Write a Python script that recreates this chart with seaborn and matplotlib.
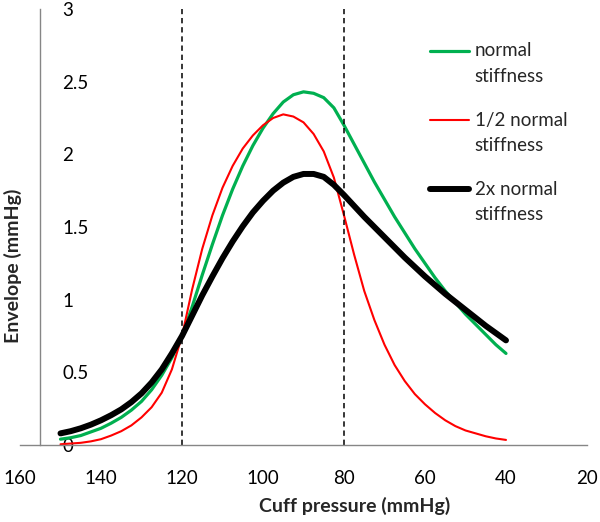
import numpy as np
import pandas as pd
import seaborn as sns
import matplotlib.pyplot as plt
from matplotlib.lines import Line2D
from matplotlib.legend_handler import HandlerLine2D

# values (cuff pressure in mmHg, envelope in mmHg)
pressure = [150, 147.5, 145, 142.5, 140, 137.5, 135, 132.5, 130, 127.5, 125, 122.5,
            120, 117.5, 115, 112.5, 110, 107.5, 105, 102.5, 100, 97.5, 95, 92.5,
            90, 87.5, 85, 82.5, 80, 77.5, 75, 72.5, 70, 67.5, 65, 62.5,
            60, 57.5, 55, 52.5, 50, 47.5, 45, 42.5, 40]
normal = [0.04, 0.05, 0.065, 0.09, 0.115, 0.15, 0.19, 0.24, 0.30, 0.38, 0.48, 0.60,
          0.75, 0.95, 1.17, 1.38, 1.58, 1.76, 1.92, 2.06, 2.18, 2.28, 2.36, 2.41,
          2.43, 2.42, 2.39, 2.32, 2.20, 2.07, 1.94, 1.81, 1.69, 1.57, 1.46, 1.35,
          1.25, 1.15, 1.06, 0.98, 0.90, 0.83, 0.76, 0.69, 0.63]
half = [0.005, 0.01, 0.015, 0.025, 0.04, 0.065, 0.095, 0.135, 0.19, 0.26, 0.36, 0.52,
        0.75, 1.07, 1.35, 1.58, 1.77, 1.92, 2.04, 2.13, 2.20, 2.25, 2.275, 2.26,
        2.22, 2.14, 2.02, 1.84, 1.58, 1.31, 1.06, 0.86, 0.69, 0.55, 0.44, 0.35,
        0.28, 0.22, 0.17, 0.13, 0.10, 0.08, 0.06, 0.045, 0.035]
double = [0.08, 0.095, 0.115, 0.14, 0.17, 0.205, 0.245, 0.295, 0.355, 0.43, 0.52, 0.63,
          0.75, 0.89, 1.03, 1.16, 1.285, 1.40, 1.505, 1.60, 1.68, 1.75, 1.805, 1.845,
          1.865, 1.865, 1.845, 1.79, 1.72, 1.645, 1.57, 1.50, 1.43, 1.36, 1.29, 1.225,
          1.16, 1.10, 1.04, 0.985, 0.93, 0.875, 0.82, 0.77, 0.72]

labels = ['normal\nstiffness', '1/2 normal\nstiffness', '2x normal\nstiffness']
colors = ['#00B050', '#FF0000', '#000000']
widths = [2.3, 1.5, 4.3]
markers_x = [120, 80]          # dashed reference lines
xticks = [160, 140, 120, 100, 80, 60, 40, 20]
yticks = [0, 0.5, 1, 1.5, 2, 2.5, 3]
ytick_labels = ['0', '0.5', '1', '1.5', '2', '2.5', '3']

sns.set_style('white')
plt.rcParams['font.family'] = ['Lato', 'DejaVu Sans']

df = pd.DataFrame({'pressure': pressure, 'normal': normal, 'half': half, 'double': double})

fig = plt.figure(figsize=(6, 5.22), dpi=100)
ax = fig.add_axes([20 / 600, 1 - 445 / 522, 567 / 600, 436 / 522])

for col, lab, c, w in zip(['normal', 'half', 'double'], labels, colors, widths):
    sns.lineplot(data=df, x='pressure', y=col, color=c, linewidth=w, label=lab,
                 ax=ax, sort=False)

ax.vlines(markers_x, 0, 3, colors='black', linewidth=1.1, linestyles=(0, (3.5, 2.5)))

ax.set_xlim(160, 20)
ax.set_ylim(0, 3)
ax.set_xticks(xticks)
ax.set_yticks(yticks)
ax.set_yticklabels(ytick_labels)

for s in ['top', 'right']:
    ax.spines[s].set_visible(False)
ax.spines['left'].set_position(('data', 155))
for s in ['left', 'bottom']:
    ax.spines[s].set_color('#868686')
    ax.spines[s].set_linewidth(1.0)

ax.tick_params(length=0, labelsize=13.5, colors='black')
ax.tick_params(axis='x', pad=18)
ax.tick_params(axis='y', pad=-16)
for t in ax.get_yticklabels():
    t.set_horizontalalignment('left')

ax.set_xlabel('Cuff pressure (mmHg)', fontsize=14, fontweight='bold')
ax.xaxis.set_label_coords((355 - 20) / 567, -0.12)
ax.set_ylabel('Envelope (mmHg)', fontsize=14, fontweight='bold')
ax.yaxis.set_label_coords(0.003, 0.41)


class RaisedLine(HandlerLine2D):
    # put the legend line next to the first text line
    def create_artists(self, legend, orig_handle, xdescent, ydescent, width,
                       height, fontsize, trans):
        arts = super().create_artists(legend, orig_handle, xdescent, ydescent,
                                      width, height, fontsize, trans)
        for a in arts:
            a.set_ydata(np.asarray(a.get_ydata()) + fontsize * 0.7)
        return arts


handles, labs = ax.get_legend_handles_labels()
leg = ax.legend(handles, labs, handler_map={Line2D: RaisedLine()}, frameon=False,
                loc='upper left', bbox_to_anchor=(0.688, 0.951),
                bbox_transform=fig.transFigure, fontsize=13.5, handlelength=2.1,
                handletextpad=0.3, labelspacing=1.43)
for t in leg.get_texts():
    t.set_linespacing(1.6)

fig.savefig('out.png', dpi=100)
